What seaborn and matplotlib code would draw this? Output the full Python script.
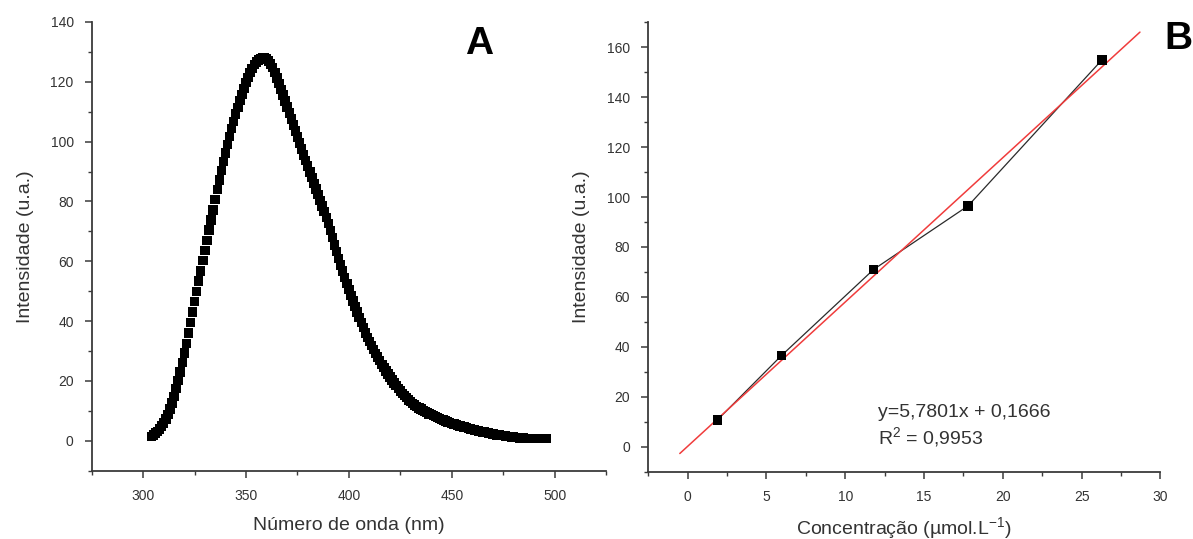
import numpy as np
import pandas as pd
import matplotlib
matplotlib.use("Agg")
import matplotlib.pyplot as plt
from matplotlib.ticker import MultipleLocator, AutoMinorLocator
import seaborn as sns

# ---------------- Data ----------------
# Panel A: emission spectrum (1 nm steps, 304-496 nm)
wavelength_start = 304
intensity_A = [
    1.5, 2.0, 2.6, 3.2, 4.0, 4.9, 6.0, 7.3, 8.8, 10.6,
    12.6, 14.9, 17.4, 20.1, 23.0, 26.1, 29.3, 32.6, 36.0, 39.5,
    43.0, 46.5, 50.0, 53.4, 56.8, 60.2, 63.6, 67.0, 70.4, 73.8,
    77.2, 80.6, 84.0, 87.2, 90.3, 93.3, 96.2, 99.0, 101.7, 104.3,
    106.8, 109.2, 111.5, 113.7, 115.8, 117.8, 119.7, 121.5, 123.1, 124.5,
    125.7, 126.6, 127.3, 127.8, 128.0, 127.9, 127.6, 127.0, 126.0, 124.7,
    123.1, 121.3, 119.4, 117.5, 115.6, 113.6, 111.6, 109.6, 107.6, 105.6,
    103.6, 101.6, 99.6, 97.6, 95.6, 93.7, 91.8, 89.9, 88.0, 86.1,
    84.2, 82.3, 80.4, 78.5, 76.6, 74.7, 72.6, 70.3, 67.9, 65.5,
    63.2, 61.0, 58.8, 56.7, 54.6, 52.5, 50.5, 48.6, 46.7, 44.8,
    43.0, 41.2, 39.5, 37.8, 36.1, 34.6, 33.2, 31.8, 30.5, 29.2,
    28.0, 26.8, 25.6, 24.5, 23.4, 22.3, 21.3, 20.3, 19.3, 18.4,
    17.5, 16.7, 15.9, 15.1, 14.4, 13.7, 13.1, 12.5, 12.0, 11.5,
    11.0, 10.6, 10.2, 9.8, 9.4, 9.0, 8.7, 8.4, 8.1, 7.8,
    7.5, 7.2, 6.9, 6.6, 6.3, 6.1, 5.8, 5.6, 5.4, 5.2,
    5.0, 4.8, 4.6, 4.4, 4.2, 4.0, 3.8, 3.6, 3.5, 3.3,
    3.2, 3.0, 2.9, 2.7, 2.6, 2.4, 2.3, 2.2, 2.0, 1.9,
    1.8, 1.7, 1.6, 1.5, 1.4, 1.3, 1.2, 1.1, 1.05, 1.0,
    0.95, 0.9, 0.85, 0.8, 0.8, 0.75, 0.75, 0.75, 0.75, 0.8,
    0.8, 0.8, 0.8,
]
wavelength_A = list(range(wavelength_start, wavelength_start + len(intensity_A)))

# Panel B: calibration curve
conc_B = [1.9, 5.95, 11.8, 17.8, 26.3]
intensity_B = [10.8, 36.5, 71.0, 96.5, 155.0]
fit_slope = 5.7801
fit_intercept = 0.1666
fit_x_range = [-0.5, 28.7]
equation_text = "y=5,7801x + 0,1666"
r2_text = "R$^{2}$ = 0,9953"

xlabel_A = "Número de onda (nm)"
ylabel = "Intensidade (u.a.)"
xlabel_B = "Concentração (µmol.L$^{-1}$)"

# ---------------- Style ----------------
sns.set_style("ticks")
plt.rcParams["font.family"] = ["Liberation Sans", "DejaVu Sans"]
plt.rcParams["mathtext.fontset"] = "custom"
plt.rcParams["mathtext.rm"] = "Liberation Sans"
plt.rcParams["mathtext.it"] = "Liberation Sans"

AX_COLOR = "#3a3a3a"
TXT_COLOR = "#333333"

fig = plt.figure(figsize=(11.93, 5.39), dpi=100)
axA = fig.add_axes([0.0769, 0.1267, 0.4311, 0.8325])
axB = fig.add_axes([0.5434, 0.1249, 0.4293, 0.8338])

dfA = pd.DataFrame({"wl": wavelength_A, "I": intensity_A})
sns.scatterplot(data=dfA, x="wl", y="I", ax=axA, marker="s", s=46,
                color="black", edgecolor="none", linewidth=0, legend=False)

dfB = pd.DataFrame({"c": conc_B, "I": intensity_B})
sns.lineplot(data=dfB, x="c", y="I", ax=axB, color="#2a2a2a", linewidth=0.9,
             legend=False, zorder=2)
fx = np.array(fit_x_range)
axB.plot(fx, fit_slope * fx + fit_intercept, color="#f03c3c", linewidth=1.1, zorder=3)
sns.scatterplot(data=dfB, x="c", y="I", ax=axB, marker="s", s=48,
                color="black", edgecolor="none", linewidth=0, legend=False, zorder=4)

def style(ax, xlim, ylim, xmaj, ymaj):
    ax.set_xlim(*xlim)
    ax.set_ylim(*ylim)
    ax.xaxis.set_major_locator(MultipleLocator(xmaj))
    ax.yaxis.set_major_locator(MultipleLocator(ymaj))
    ax.xaxis.set_minor_locator(AutoMinorLocator(2))
    ax.yaxis.set_minor_locator(AutoMinorLocator(2))
    for s in ["top", "right"]:
        ax.spines[s].set_visible(False)
    for s in ["left", "bottom"]:
        ax.spines[s].set_color(AX_COLOR)
        ax.spines[s].set_linewidth(1.3)
    ax.tick_params(which="major", direction="out", length=5, width=1.1,
                   color=AX_COLOR, labelsize=10, labelcolor=TXT_COLOR, pad=8)
    ax.tick_params(which="minor", direction="out", length=3, width=1.0, color=AX_COLOR)

style(axA, (275, 525), (-10, 140), 50, 20)
style(axB, (-2.5, 30), (-10, 170), 5, 20)

axA.set_yticks([0, 20, 40, 60, 80, 100, 120, 140])
axA.set_xticks([300, 350, 400, 450, 500])
axB.set_yticks([0, 20, 40, 60, 80, 100, 120, 140, 160])
axB.set_xticks([0, 5, 10, 15, 20, 25, 30])

axA.set_xlabel(xlabel_A, fontsize=14, color=TXT_COLOR, labelpad=10)
axA.set_ylabel(ylabel, fontsize=14, color=TXT_COLOR, labelpad=12)
axB.set_xlabel(xlabel_B, fontsize=14, color=TXT_COLOR, labelpad=8)
axB.set_ylabel(ylabel, fontsize=14, color=TXT_COLOR, labelpad=12)

axB.text(12.05, 13.7, equation_text, fontsize=14, color=TXT_COLOR, va="center", ha="left")
axB.text(12.05, 3.7, r2_text, fontsize=14, color=TXT_COLOR, va="center", ha="left")

fig.text(0.402, 0.918, "A", fontsize=28, fontweight="bold", color="black",
         ha="center", va="center")
fig.text(0.988, 0.927, "B", fontsize=28, fontweight="bold", color="black",
         ha="center", va="center")

fig.savefig("out.png", dpi=100)
